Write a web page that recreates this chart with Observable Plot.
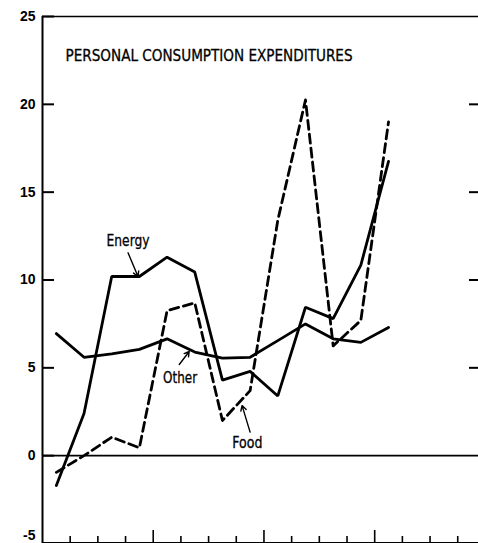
<!DOCTYPE html>
<html>
<head>
<meta charset="utf-8">
<script src="https://cdn.jsdelivr.net/npm/d3@7"></script>
<script src="https://cdn.jsdelivr.net/npm/@observablehq/plot@0.6"></script>
<style>
  html, body { margin: 0; padding: 0; background: #fff; }
  #chart svg { display: block; }
</style>
</head>
<body>
<div id="chart"></div>
<script>
// ---- data (quarterly % changes) ----
const quarter = [1, 2, 3, 4, 5, 6, 7, 8, 9, 10, 11, 12, 13];
const energy = [-1.7, 2.4, 10.2, 10.2, 11.3, 10.45, 4.3, 4.8, 3.4, 8.45, 7.8, 10.85, 16.75];
const food   = [-0.95, 0.0, 1.05, 0.45, 8.25, 8.7, 2.0, 3.7, 13.4, 20.25, 6.25, 7.7, 19.0];
const other  = [6.95, 5.6, 5.8, 6.05, 6.65, 5.9, 5.55, 5.6, 6.55, 7.5, 6.65, 6.45, 7.3];

const yTicks = [0, 5, 10, 15, 20, 25];
const yBottomTick = [-5];
const yAllTicks = [-5, 0, 5, 10, 15, 20, 25];
const yRightTicks = [5, 10, 15, 20];
const quarterTicks = [1, 2, 3, 5, 6, 7, 9, 10, 11, 13, 14, 15];
const yearTicks = [4, 8, 12];
const title = "PERSONAL CONSUMPTION EXPENDITURES";

const seriesNames = ["Energy", "Other", "Food"];
// annotation anchors (data units)
const labelX = [3.09, 4.97, 7.4];
const labelY = [12.2, 4.45, 0.7];
const arrowFromX = [3.09, 4.94, 7.5];
const arrowFromY = [11.55, 5.19, 1.34];
const arrowToX = [3.45, 5.3, 7.21];
const arrowToY = [10.2, 5.93, 2.85];

// ---- tables ----
const mk = (vals) => quarter.map((q, i) => ({q: q - 0.5, v: vals[i]}));
const energyRows = mk(energy), foodRows = mk(food), otherRows = mk(other);
const labels = seriesNames.map((n, i) => ({n, x: labelX[i], y: labelY[i]}));
const arrows = seriesNames.map((n, i) => ({x1: arrowFromX[i], y1: arrowFromY[i], x2: arrowToX[i], y2: arrowToY[i]}));

const font = "'Liberation Sans Narrow', 'DejaVu Sans Condensed', 'Liberation Sans', sans-serif";
const tickText = {anchor: "left", tickSize: 0, tickPadding: 7, label: null,
  tickFormat: d => String(d), fontSize: 14, fontWeight: "bold"};

const chart = Plot.plot({
  width: 478,
  height: 543,
  marginLeft: 42,
  marginRight: 0,
  marginTop: 16,
  marginBottom: 0,
  style: {background: "#fff", color: "#000", fontFamily: "'Liberation Sans', Arial, sans-serif"},
  x: {domain: [0, 15.75], axis: null},
  y: {domain: [-5, 25], axis: null},
  marks: [
    Plot.ruleY([25], {stroke: "#000", strokeWidth: 1.5}),
    Plot.ruleY([0], {stroke: "#000", strokeWidth: 1.6}),
    Plot.ruleY([-5], {stroke: "#000", strokeWidth: 3}),
    Plot.ruleX([0], {stroke: "#000", strokeWidth: 2}),
    Plot.axisY(yTicks, tickText),
    Plot.axisY(yBottomTick, {...tickText, dy: -8}),
    Plot.axisY(yAllTicks, {anchor: "left", tickSize: -12, tickFormat: () => "", label: null, strokeWidth: 2}),
    Plot.axisY(yRightTicks, {anchor: "right", tickSize: -10, tickFormat: () => "", label: null, strokeWidth: 2}),
    Plot.axisX(quarterTicks, {anchor: "bottom", tickSize: -7, tickFormat: () => "", label: null, strokeWidth: 1.6}),
    Plot.axisX(yearTicks, {anchor: "bottom", tickSize: -13, tickFormat: () => "", label: null, strokeWidth: 1.6}),
    Plot.line(otherRows, {x: "q", y: "v", stroke: "#000", strokeWidth: 2.8, strokeLinejoin: "miter"}),
    Plot.line(energyRows, {x: "q", y: "v", stroke: "#000", strokeWidth: 2.8, strokeLinejoin: "miter"}),
    Plot.line(foodRows, {x: "q", y: "v", stroke: "#000", strokeWidth: 2.8, strokeDasharray: "9,5"}),
    Plot.arrow(arrows, {x1: "x1", y1: "y1", x2: "x2", y2: "y2", stroke: "#000", strokeWidth: 1.4, headLength: 6}),
    Plot.text(labels, {x: "x", y: "y", text: "n", fontSize: 16, fontFamily: font, fill: "#000",
      stroke: "#000", strokeWidth: 0.3}),
    Plot.text([title], {frameAnchor: "top-left", dx: 23, dy: 33, text: d => d, textAnchor: "start",
      fontSize: 16, fontFamily: font, fill: "#000", stroke: "#000", strokeWidth: 0.3})
  ]
});

// fit text widths to the reference
const widths = {"PERSONAL CONSUMPTION EXPENDITURES": 287, "Energy": 43, "Other": 34, "Food": 30};
d3.select(chart).selectAll("text").each(function() {
  const t = this.textContent;
  if (widths[t]) {
    this.setAttribute("textLength", widths[t]);
    this.setAttribute("lengthAdjust", "spacingAndGlyphs");
  }
});
document.getElementById("chart").appendChild(chart);
</script>
</body>
</html>
